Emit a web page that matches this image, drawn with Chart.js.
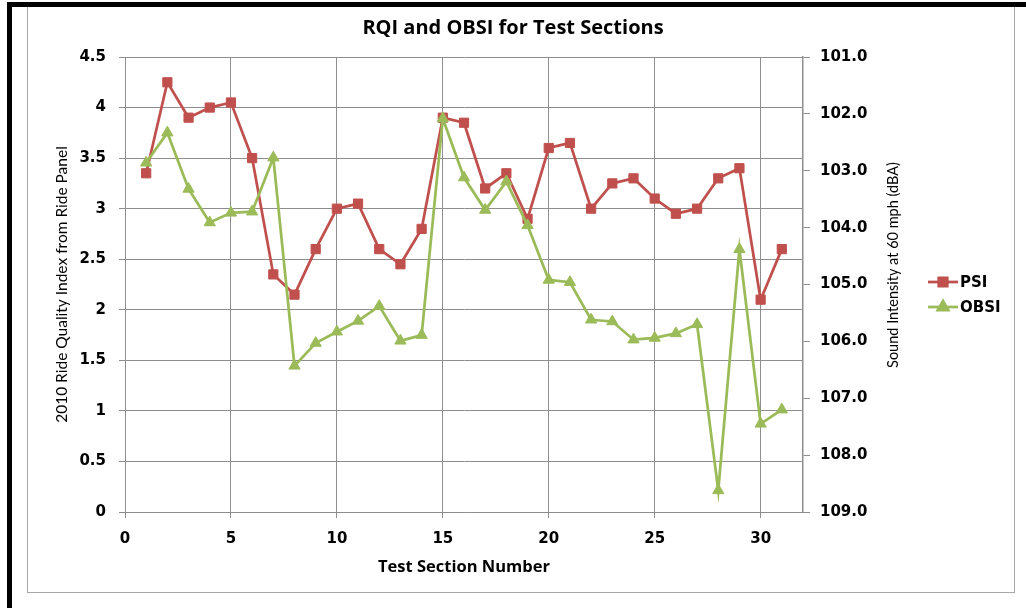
<!DOCTYPE html>
<html><head><meta charset="utf-8">
<script src="https://cdn.jsdelivr.net/npm/chart.js@4/dist/chart.umd.min.js"></script>
<style>
html,body{margin:0;padding:0;background:#fff;width:1026px;height:608px;overflow:hidden;}
#wrap{position:relative;width:1026px;height:608px;}
canvas{position:absolute;left:0;top:0;}
.b{position:absolute;}
</style></head><body>
<div id="wrap">
<div class="b" style="left:27px;top:6px;width:986px;height:585px;border:1px solid #a8a8a8;"></div>
<div class="b" style="left:7px;top:2px;width:1019px;height:5px;background:#000;"></div>
<div class="b" style="left:7px;top:2px;width:5px;height:606px;background:#000;"></div>
<canvas id="c" width="1026" height="608"></canvas>
</div>
<script>
const TITLE = 'RQI and OBSI for Test Sections';
const X_TITLE = 'Test Section Number';
const Y_TITLE = '2010 Ride Quality Index from Ride Panel';
const Y2_TITLE = 'Sound Intensity at 60 mph (dBA)';
const SERIES_NAMES = ['PSI', 'OBSI'];
const sections = [1,2,3,4,5,6,7,8,9,10,11,12,13,14,15,16,17,18,19,20,21,22,23,24,25,26,27,28,29,30,31];
const psi = [3.35,4.25,3.9,4.0,4.05,3.5,2.35,2.15,2.6,3.0,3.05,2.6,2.45,2.8,3.9,3.85,3.2,3.35,2.9,3.6,3.65,3.0,3.25,3.3,3.1,2.95,3.0,3.3,3.4,2.1,2.6];
const obsi = [102.86,102.33,103.32,103.91,103.74,103.72,102.77,106.43,106.03,105.83,105.64,105.38,105.99,105.89,102.08,103.12,103.69,103.19,103.96,104.92,104.96,105.62,105.65,105.97,105.94,105.86,105.70,108.62,104.38,107.45,107.20];

const RED = '#C0504D', GREEN = '#9BBB59', GRID = '#8e8e8e';
const tickFont = {family:'DejaVu Sans', size:15, weight:'bold'};

const extras = {
  id:'extras',
  afterDraw(chart){
    const ctx = chart.ctx;
    ctx.save();
    ctx.translate(893, 265);
    ctx.rotate(-Math.PI/2);
    ctx.font = '14.5px Lato';
    ctx.fillStyle = '#000';
    ctx.textAlign = 'center';
    ctx.textBaseline = 'middle';
    ctx.fillText(Y2_TITLE, 0, 0);
    ctx.restore();
    // legend
    const items = [
      {name:SERIES_NAMES[0], color:RED, style:'rect', r:6, y:282},
      {name:SERIES_NAMES[1], color:GREEN, style:'triangle', r:6, y:307}
    ];
    items.forEach(it => {
      ctx.save();
      ctx.strokeStyle = it.color; ctx.lineWidth = 2.75;
      ctx.beginPath(); ctx.moveTo(928, it.y); ctx.lineTo(958, it.y); ctx.stroke();
      ctx.fillStyle = it.color;
      Chart.helpers.drawPoint(ctx, {pointStyle:it.style, radius:it.r, rotation:0, borderWidth:1}, 943, it.y);
      ctx.fillStyle = '#000';
      ctx.font = 'bold 15px "DejaVu Sans"';
      ctx.textAlign = 'left'; ctx.textBaseline = 'middle';
      ctx.fillText(it.name, 960, it.y + 1);
      ctx.restore();
    });
  }
};

new Chart(document.getElementById('c'), {
  type:'line',
  data:{
    datasets:[
      {label:SERIES_NAMES[0], data:sections.map((s,i)=>({x:s,y:psi[i]})), yAxisID:'y',
       borderColor:RED, backgroundColor:RED, borderWidth:2.75, pointStyle:'rect', pointRadius:6.5,
       pointBorderWidth:1, pointBorderColor:RED, pointBackgroundColor:RED, tension:0, order:1},
      {label:SERIES_NAMES[1], data:sections.map((s,i)=>({x:s,y:obsi[i]})), yAxisID:'y2',
       borderColor:GREEN, backgroundColor:GREEN, borderWidth:2.75, pointStyle:'triangle', pointRadius:6.5,
       pointBorderWidth:1, pointBorderColor:GREEN, pointBackgroundColor:GREEN, tension:0, order:0}
    ]
  },
  options:{
    responsive:false, animation:false,
    layout:{padding:{top:16.5,left:0,right:0,bottom:0}},
    plugins:{
      legend:{display:false}, tooltip:{enabled:false},
      title:{display:true, text:TITLE, color:'#000', font:{family:'Open Sans', size:20, weight:'bold'}, padding:{top:0,bottom:16.5}}
    },
    scales:{
      x:{type:'linear', min:0, max:32, bounds:'data',
         afterBuildTicks:s=>{s.ticks = s.ticks.filter(t => t.value % 5 === 0 && t.value <= 30);},
         ticks:{stepSize:5, includeBounds:false, font:tickFont, color:'#000', padding:12, maxRotation:0, autoSkip:false},
         grid:{color:GRID, lineWidth:1, tickLength:6},
         border:{color:GRID, width:1},
         title:{display:true, text:X_TITLE, color:'#000', font:{family:'Open Sans', size:16.5, weight:'bold'}, padding:{top:0,bottom:31}},
         afterFit:s=>{s.height=96;}},
      y:{type:'linear', position:'left', min:0, max:4.5,
         ticks:{stepSize:0.5, callback:v=>String(v), font:tickFont, color:'#000', padding:13},
         grid:{color:GRID, lineWidth:1, tickLength:6},
         border:{color:GRID, width:1},
         title:{display:true, text:Y_TITLE, color:'#000', font:{family:'Lato', size:15.5}, padding:{top:53,bottom:0}},
         afterFit:s=>{s.width=125;}},
      y2:{type:'linear', position:'right', min:101, max:109, reverse:true,
         ticks:{stepSize:1, callback:v=>v.toFixed(1), font:tickFont, color:'#000', padding:10},
         grid:{drawOnChartArea:false, color:GRID, tickLength:7},
         border:{color:GRID, width:1.5},
         afterFit:s=>{s.width=223;}}
    }
  },
  plugins:[extras]
});
</script>
</body></html>
